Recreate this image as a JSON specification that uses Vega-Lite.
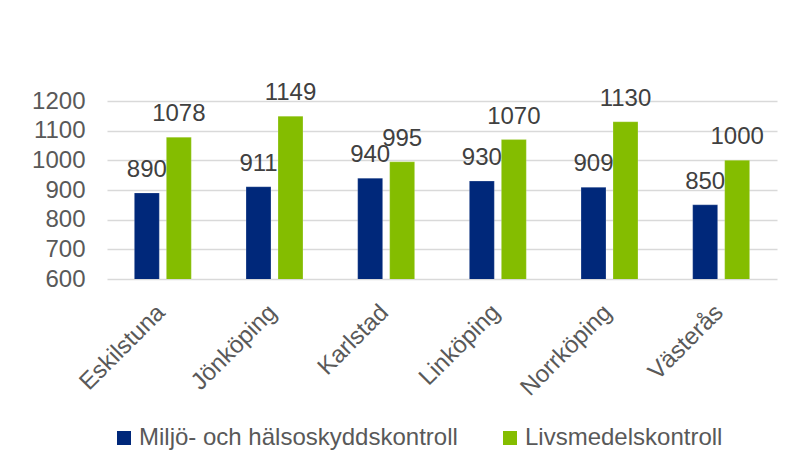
{
  "$schema": "https://vega.github.io/schema/vega-lite/v6.json",
  "width": 670,
  "height": 178,
  "autosize": {"type": "none"},
  "padding": {"left": 107, "top": 101, "right": 10, "bottom": 186},
  "background": "white",
  "config": {
    "view": {"stroke": null},
    "font": "Liberation Sans"
  },
  "data": {
    "values": [
      {"city": "Eskilstuna", "typ": "Miljö- och hälsoskyddskontroll", "v": 890},
      {"city": "Eskilstuna", "typ": "Livsmedelskontroll", "v": 1078},
      {"city": "Jönköping", "typ": "Miljö- och hälsoskyddskontroll", "v": 911},
      {"city": "Jönköping", "typ": "Livsmedelskontroll", "v": 1149},
      {"city": "Karlstad", "typ": "Miljö- och hälsoskyddskontroll", "v": 940},
      {"city": "Karlstad", "typ": "Livsmedelskontroll", "v": 995},
      {"city": "Linköping", "typ": "Miljö- och hälsoskyddskontroll", "v": 930},
      {"city": "Linköping", "typ": "Livsmedelskontroll", "v": 1070},
      {"city": "Norrköping", "typ": "Miljö- och hälsoskyddskontroll", "v": 909},
      {"city": "Norrköping", "typ": "Livsmedelskontroll", "v": 1130},
      {"city": "Västerås", "typ": "Miljö- och hälsoskyddskontroll", "v": 850},
      {"city": "Västerås", "typ": "Livsmedelskontroll", "v": 1000}
    ]
  },
  "encoding": {
    "x": {
      "field": "city", "type": "nominal", "sort": null,
      "scale": {"paddingInner": 0.49, "paddingOuter": 0.245},
      "axis": {
        "title": null, "labelAngle": -45, "labelFontSize": 24, "labelColor": "#595959",
        "labelPadding": 21, "labelOffset": -10, "domain": false, "ticks": false, "grid": false
      }
    },
    "xOffset": {
      "field": "typ", "type": "nominal", "sort": ["Miljö- och hälsoskyddskontroll", "Livsmedelskontroll"],
      "scale": {"paddingInner": 0.22, "paddingOuter": 0}
    },
    "y": {
      "field": "v", "type": "quantitative",
      "scale": {"domain": [600, 1200], "nice": false, "zero": false},
      "axis": {
        "title": null, "values": [600, 700, 800, 900, 1000, 1100, 1200], "format": "d",
        "labelFontSize": 24, "labelColor": "#595959", "labelPadding": 22,
        "domain": false, "ticks": false, "gridColor": "#d9d9d9", "gridWidth": 1.5
      }
    }
  },
  "layer": [
    {
      "mark": {"type": "bar", "clip": true, "stroke": "#ffffff", "strokeOpacity": 0.4, "strokeWidth": 0.5},
      "encoding": {
        "color": {
          "field": "typ", "type": "nominal",
          "sort": ["Miljö- och hälsoskyddskontroll", "Livsmedelskontroll"],
          "scale": {"domain": ["Miljö- och hälsoskyddskontroll", "Livsmedelskontroll"], "range": ["#00287A", "#84BD00"]},
          "legend": {
            "title": null, "orient": "none", "direction": "horizontal",
            "legendX": 5, "legendY": 325,
            "symbolType": "square", "symbolSize": 196, "symbolStrokeWidth": 0,
            "labelFontSize": 24, "labelColor": "#595959", "labelOffset": 3,
            "columnPadding": 40, "labelLimit": 400
          }
        }
      }
    },
    {
      "mark": {"type": "text", "fontSize": 24, "color": "#404040", "baseline": "alphabetic", "dy": -16},
      "encoding": {
        "text": {"field": "v", "type": "quantitative", "format": "d"}
      }
    }
  ]
}
